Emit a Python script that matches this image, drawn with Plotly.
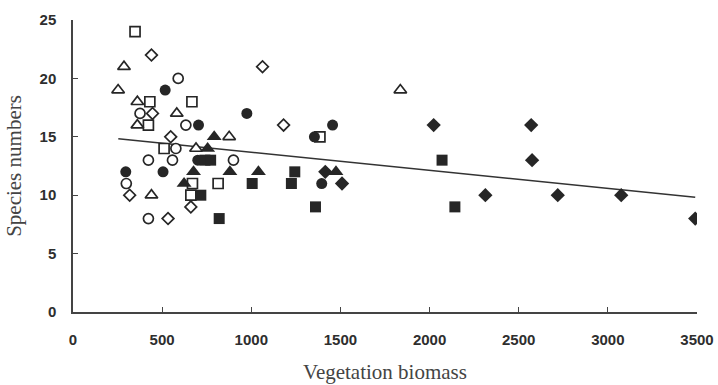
import plotly.graph_objects as go

# ---- data ----
open_sq_x = [348, 431, 667, 423, 511, 670, 661, 814, 1385]
open_sq_y = [24, 18, 18, 16, 14, 11, 10, 11, 15]

open_circ_x = [590, 376, 633, 577, 423, 558, 900, 299, 423]
open_circ_y = [20, 17, 16, 14, 13, 13, 13, 11, 8]

open_dia_x = [440, 1063, 446, 1181, 548, 318, 661, 533]
open_dia_y = [22, 21, 17, 16, 15, 10, 9, 8]

open_tri_x = [286, 253, 361, 582, 361, 690, 876, 440, 1836]
open_tri_y = [21, 19, 18, 17, 16, 14, 15, 10, 19]

filled_circ_x = [517, 296, 505, 704, 975, 1456, 1395, 1354, 700]
filled_circ_y = [19, 12, 12, 16, 17, 16, 11, 15, 13]

filled_tri_x = [792, 676, 880, 1040, 623, 755, 1475]
filled_tri_y = [15, 12, 12, 12, 11, 14, 12]

filled_sq_x = [740, 772, 717, 820, 1005, 1244, 1225, 1360, 2070, 2142]
filled_sq_y = [13, 13, 10, 8, 11, 12, 11, 9, 13, 9]

filled_dia_x = [1415, 1509, 2023, 2570, 2575, 2313, 2719, 3075, 3490]
filled_dia_y = [12, 11, 16, 16, 13, 10, 10, 10, 8]

trend_x = [254, 3490]
trend_y = [14.83, 9.83]

x_ticks = [0, 500, 1000, 1500, 2000, 2500, 3000, 3500]
y_ticks = [0, 5, 10, 15, 20, 25]

INK = "#262626"

fig = go.Figure()

fig.add_trace(go.Scatter(x=trend_x, y=trend_y, mode="lines",
                         line=dict(color="#333333", width=1.6), hoverinfo="skip"))

def add(xs, ys, sym, size, filled):
    fig.add_trace(go.Scatter(
        x=xs, y=ys, mode="markers",
        marker=dict(symbol=sym, size=size,
                    color=INK if filled else "white",
                    line=dict(color=INK, width=0 if filled else 1.7))))

add(open_sq_x, open_sq_y, "square", 10, False)
add(open_circ_x, open_circ_y, "circle", 10, False)
add(open_dia_x, open_dia_y, "diamond", 9, False)
add(open_tri_x, open_tri_y, "triangle-up", 11, False)
add(filled_circ_x, filled_circ_y, "circle", 11, True)
add(filled_tri_x, filled_tri_y, "triangle-up", 13, True)
add(filled_sq_x, filled_sq_y, "square", 11, True)
add(filled_dia_x, filled_dia_y, "diamond", 11, True)

fig.update_layout(
    width=718, height=385,
    margin=dict(l=73, r=21, t=20, b=73),
    paper_bgcolor="white", plot_bgcolor="white",
    showlegend=False,
)

tick_font = dict(family="Liberation Sans, Arial", size=15, color="#2e2e2e", weight="bold")
title_font = dict(family="Liberation Serif, Times New Roman", size=21, color="#444444")

fig.update_xaxes(
    range=[0, 3500], tickvals=x_ticks, ticktext=[str(v) for v in x_ticks],
    showgrid=False, zeroline=False, automargin=False,
    showline=True, linecolor="#444444", linewidth=1.5,
    ticks="inside", ticklen=5, tickcolor="#444444", tickwidth=1.3,
    tickfont=tick_font, ticklabelstandoff=13,
    title=dict(text="Vegetation biomass", font=title_font, standoff=18),
)
fig.update_yaxes(
    range=[0, 25], tickvals=y_ticks, ticktext=[str(v) for v in y_ticks],
    showgrid=False, zeroline=False, automargin=False,
    showline=True, linecolor="#444444", linewidth=1.5,
    ticks="inside", ticklen=5, tickcolor="#444444", tickwidth=1.3,
    tickfont=tick_font, ticklabelstandoff=12,
    title=dict(text="Species numbers", font=title_font, standoff=12),
)

fig.write_html("out.html")
